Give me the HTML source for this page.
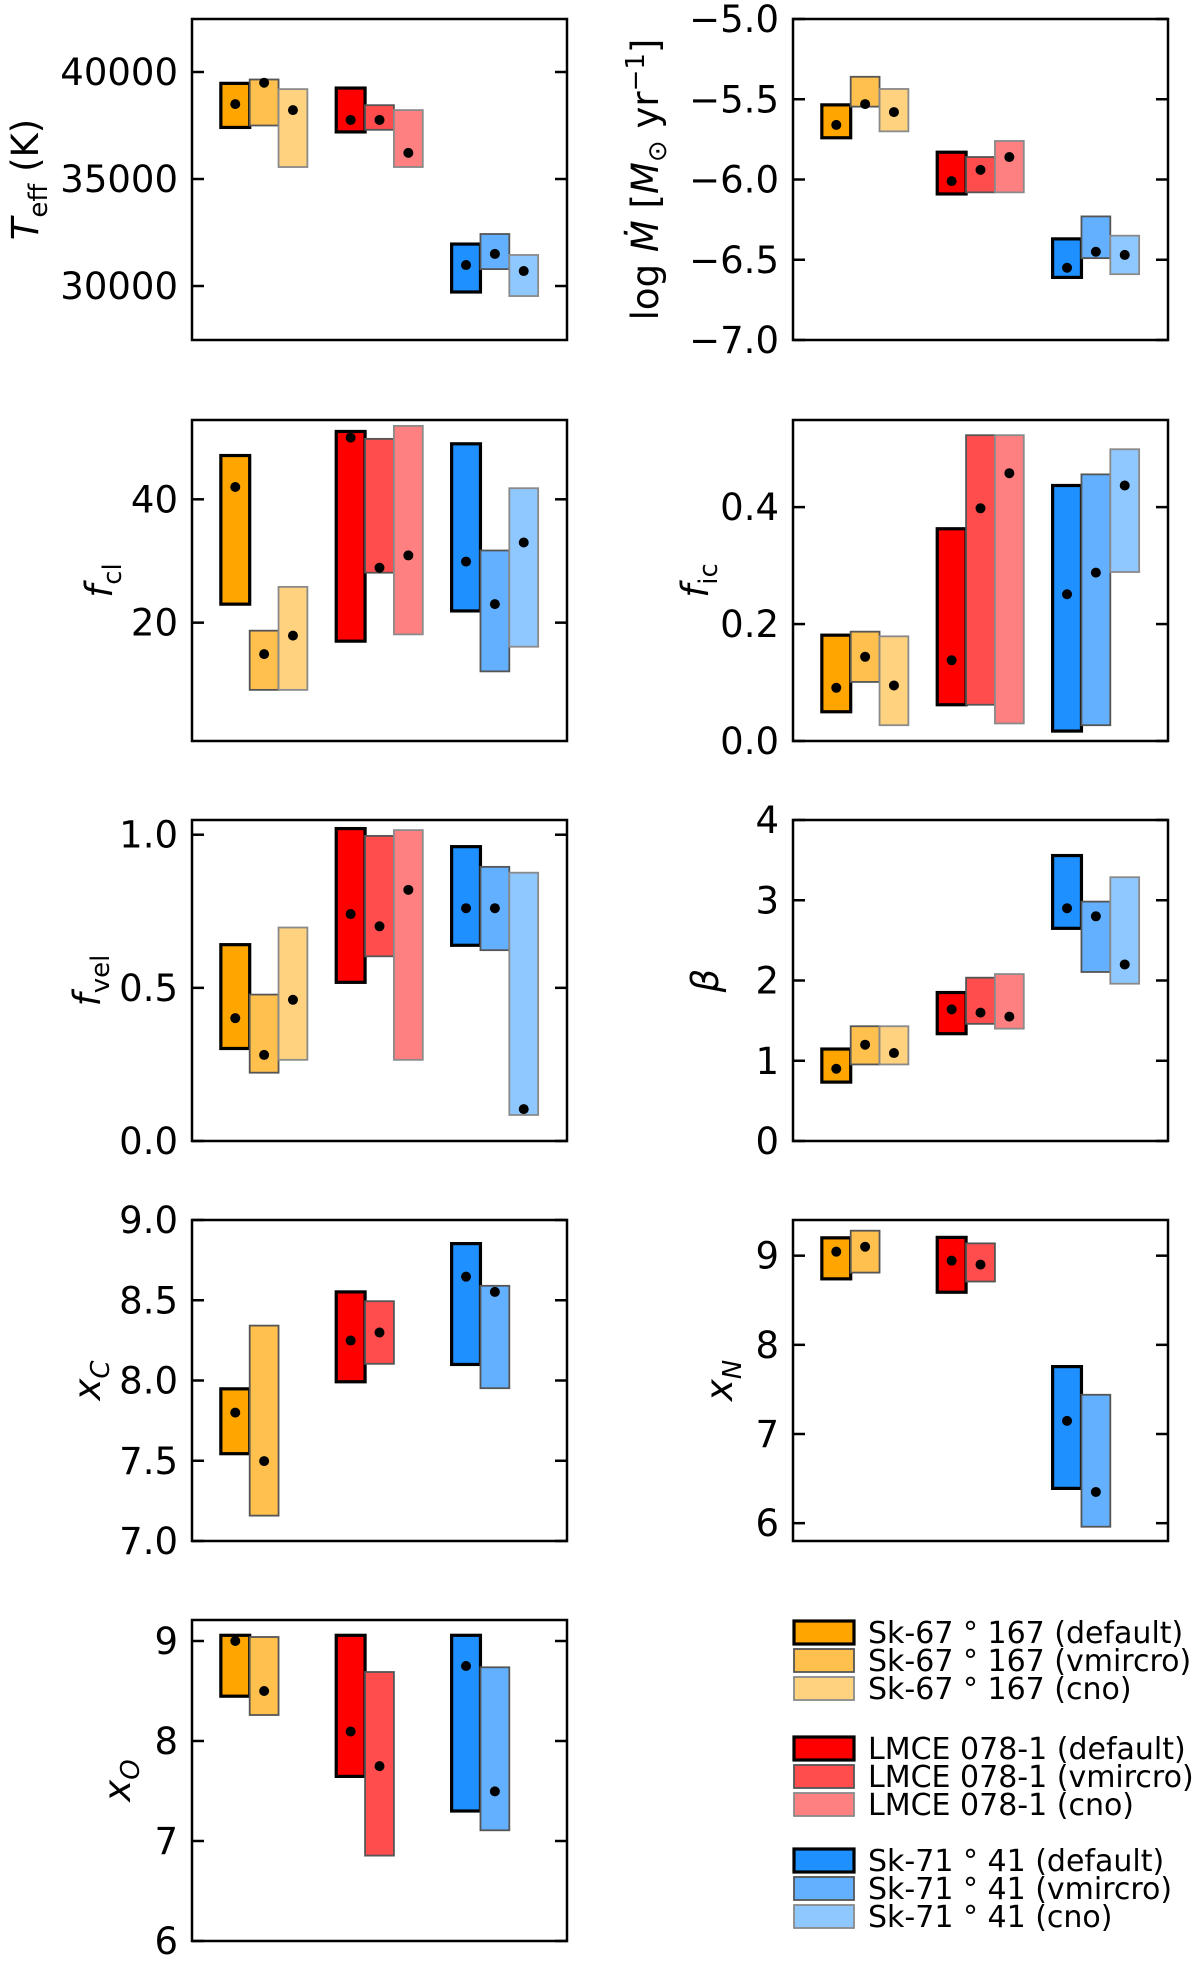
<!DOCTYPE html>
<html><head><meta charset="utf-8">
<style>
html,body{margin:0;padding:0;background:#fff;}
svg{display:block;font-family:"DejaVu Sans","Liberation Sans",sans-serif;}
</style></head>
<body>
<svg id="fig" width="1200" height="1963" viewBox="0 0 1200 1963" xmlns="http://www.w3.org/2000/svg"></svg>
<script>
// Models order: Sk-67 (default, vmicro, cno), LMCE 078-1 (default, vmicro, cno), Sk-71 (default, vmicro, cno)
const modelNames = ["Sk-67 ° 167 (default)","Sk-67 ° 167 (vmircro)","Sk-67 ° 167 (cno)",
  "LMCE 078-1 (default)","LMCE 078-1 (vmircro)","LMCE 078-1 (cno)",
  "Sk-71 ° 41 (default)","Sk-71 ° 41 (vmircro)","Sk-71 ° 41 (cno)"];
const modelColors = ["#ffa500","#ffc04d","#ffd280","#ff0000","#ff4d4d","#ff8080","#1e90ff","#62b0ff","#8fc7ff"];

const teffLo = [37410,37500,35560,37200,37300,35560,29720,30790,29530];
const teffHi = [39470,39650,39200,39250,38450,38220,31960,32430,31450];
const teffVal = [38500,39500,38220,37760,37760,36220,30980,31500,30700];

const mdotLo = [-5.74,-5.546,-5.70,-6.09,-6.08,-6.08,-6.61,-6.49,-6.59];
const mdotHi = [-5.535,-5.36,-5.436,-5.83,-5.86,-5.76,-6.37,-6.23,-6.35];
const mdotVal = [-5.66,-5.53,-5.58,-6.01,-5.94,-5.86,-6.55,-6.45,-6.47];

const fclLo = [23.0,9.1,9.1,17.0,28.1,18.1,21.9,12.1,16.1];
const fclHi = [47.1,18.7,25.8,51.0,49.8,51.9,49.0,31.7,41.8];
const fclVal = [42.0,14.9,17.9,50.0,28.9,30.9,29.9,23.0,33.0];

const ficLo = [0.050,0.101,0.027,0.062,0.062,0.030,0.017,0.027,0.289];
const ficHi = [0.181,0.187,0.179,0.363,0.523,0.523,0.437,0.456,0.499];
const ficVal = [0.091,0.144,0.095,0.138,0.398,0.458,0.251,0.288,0.437];

const fvelLo = [0.302,0.223,0.265,0.518,0.603,0.265,0.639,0.623,0.085];
const fvelHi = [0.641,0.478,0.697,1.02,0.996,1.015,0.961,0.895,0.876];
const fvelVal = [0.401,0.281,0.461,0.741,0.701,0.82,0.760,0.760,0.104];

const betaLo = [0.734,0.954,0.954,1.337,1.46,1.40,2.65,2.106,1.96];
const betaHi = [1.146,1.43,1.43,1.85,2.035,2.08,3.557,2.983,3.287];
const betaVal = [0.90,1.20,1.096,1.64,1.60,1.55,2.90,2.80,2.20];

const xcLo = [7.544,7.158,null,7.992,8.104,null,8.10,7.952,null];
const xcHi = [7.948,8.342,null,8.552,8.494,null,8.853,8.59,null];
const xcVal = [7.80,7.498,null,8.249,8.299,null,8.647,8.552,null];

const xnLo = [8.74,8.81,null,8.59,8.71,null,6.39,5.96,null];
const xnHi = [9.20,9.28,null,9.205,9.138,null,7.756,7.44,null];
const xnVal = [9.045,9.10,null,8.944,8.90,null,7.147,6.35,null];

const xoLo = [8.448,8.26,null,7.646,6.854,null,7.30,7.107,null];
const xoHi = [9.057,9.04,null,9.057,8.69,null,9.057,8.737,null];
const xoVal = [9.0,8.50,null,8.095,7.749,null,8.75,7.496,null];

const teffTicks = [30000,35000,40000];
const mdotTicks = [-7.0,-6.5,-6.0,-5.5,-5.0];
const fclTicks = [20,40];
const ficTicks = [0.0,0.2,0.4];
const fvelTicks = [0.0,0.5,1.0];
const betaTicks = [0,1,2,3,4];
const xcTicks = [7.0,7.5,8.0,8.5,9.0];
const xnTicks = [6,7,8,9];
const xoTicks = [6,7,8,9];

const NS = "http://www.w3.org/2000/svg";
const svg = document.getElementById("fig");
function mk(tag, attrs, parent){
  const e = document.createElementNS(NS, tag);
  for (const k in attrs) e.setAttribute(k, attrs[k]);
  (parent||svg).appendChild(e);
  return e;
}
function fmt(v, dec){ const s = v.toFixed(dec); return s.replace("-", "\u2212"); }

const colX = [192, 793];
const panelW = 375, panelH = 321;
const rowY = [19, 420, 820, 1220, 1620];

function drawPanel(name, col, row, lo, hi, val, ymin, ymax, ticks, dec, labelX, labelHTML){
  const x0 = colX[col], y0 = rowY[row];
  const g = mk("g", {});
  
  
  const xs = k => x0 + (k + 1.5) / 13 * panelW;
  const ys = v => y0 + panelH - (v - ymin) / (ymax - ymin) * panelH;
  const bw = panelW / 13;
  for (let i = 0; i < 9; i++) {
    if (lo[i] === null) continue;
    const grp = Math.floor(i / 3), j = i % 3;
    const k = grp * 4 + j;
    const cx = xs(k);
    const yt = ys(hi[i]), yb = ys(lo[i]);
    const stroke = j === 0 ? "#000" : (j === 1 ? "#555" : "#8a8a8a");
    const sw = j === 0 ? 3.2 : 1.8;
    const r = mk("rect", {x: cx - bw/2, y: yt, width: bw, height: yb - yt, fill: modelColors[i], stroke: stroke, "stroke-width": sw}, g);
    
    
  }
  for (let i = 0; i < 9; i++) {
    if (val[i] === null) continue;
    const grp = Math.floor(i / 3), j = i % 3;
    const c = mk("circle", {cx: xs(grp*4+j), cy: ys(val[i]), r: 5, fill: "#000"}, g);
    
    
  }
  const frame = mk("rect", {x: x0, y: y0, width: panelW, height: panelH, fill: "none", stroke: "#000", "stroke-width": 2.5}, g);
  
  
  ticks.forEach(t => {
    const ty = ys(t);
    mk("line", {x1: x0, x2: x0 + 12, y1: ty, y2: ty, stroke: "#000", "stroke-width": 2.5}, g);
    mk("line", {x1: x0 + panelW - 12, x2: x0 + panelW, y1: ty, y2: ty, stroke: "#000", "stroke-width": 2.5}, g);
    const tl = mk("text", {x: x0 - 14, y: ty + 13, "font-size": 37, "text-anchor": "end", fill: "#000"}, g);
    tl.textContent = fmt(t, dec);
    
    
  });
  const cy = y0 + panelH / 2;
  const lab = mk("text", {x: 0, y: 0, "font-size": 37, "text-anchor": "middle", fill: "#000",
    transform: "translate(" + labelX + "," + cy + ") rotate(-90)"}, g);
  lab.innerHTML = labelHTML;
  
  
}

drawPanel("teff", 0, 0, teffLo, teffHi, teffVal, 27477, 42477, teffTicks, 0, 38,
  '<tspan font-style="italic">T</tspan><tspan font-size="26" dy="9">eff</tspan><tspan dy="-9"> (K)</tspan>');
drawPanel("mdot", 1, 0, mdotLo, mdotHi, mdotVal, -7.0, -5.0, mdotTicks, 1, 658,
  'log <tspan font-style="italic">Ṁ</tspan> [<tspan font-style="italic">M</tspan><tspan font-size="26" dy="8">⊙</tspan><tspan dy="-8"> yr</tspan><tspan font-size="26" dy="-14">−1</tspan><tspan dy="14">]</tspan>');
drawPanel("fcl", 0, 1, fclLo, fclHi, fclVal, 0.81, 52.86, fclTicks, 0, 112,
  '<tspan font-style="italic">f</tspan><tspan font-size="26" dy="9">cl</tspan>');
drawPanel("fic", 1, 1, ficLo, ficHi, ficVal, 0.0, 0.549, ficTicks, 1, 708,
  '<tspan font-style="italic">f</tspan><tspan font-size="26" dy="9">ic</tspan>');
drawPanel("fvel", 0, 2, fvelLo, fvelHi, fvelVal, 0.0, 1.048, fvelTicks, 1, 100,
  '<tspan font-style="italic">f</tspan><tspan font-size="26" dy="9">vel</tspan>');
drawPanel("beta", 1, 2, betaLo, betaHi, betaVal, 0, 4.0, betaTicks, 0, 718,
  '<tspan font-style="italic">β</tspan>');
drawPanel("xc", 0, 3, xcLo, xcHi, xcVal, 7.0, 9.0, xcTicks, 1, 100,
  '<tspan font-style="italic">x</tspan><tspan font-size="26" dy="9" font-style="italic">C</tspan>');
drawPanel("xn", 1, 3, xnLo, xnHi, xnVal, 5.80, 9.40, xnTicks, 0, 732,
  '<tspan font-style="italic">x</tspan><tspan font-size="26" dy="9" font-style="italic">N</tspan>');
drawPanel("xo", 0, 4, xoLo, xoHi, xoVal, 6.0, 9.21, xoTicks, 0, 130,
  '<tspan font-style="italic">x</tspan><tspan font-size="26" dy="9" font-style="italic">O</tspan>');

// Legend
const legendRowY = [1632,1660,1688,1748,1776,1804,1860,1888,1916];
const lg = mk("g", {});


for (let i = 0; i < 9; i++) {
  const j = i % 3;
  const stroke = j === 0 ? "#000" : (j === 1 ? "#555" : "#8a8a8a");
  const sw = j === 0 ? 3.2 : 1.8;
  const p = mk("rect", {x: 794, y: legendRowY[i] - 11, width: 60, height: 23, fill: modelColors[i], stroke: stroke, "stroke-width": sw}, lg);
  
  
  const t = mk("text", {x: 868, y: legendRowY[i] + 11, "font-size": 30, fill: "#000"}, lg);
  t.textContent = modelNames[i];
  
  
}
</script>
</body></html>
